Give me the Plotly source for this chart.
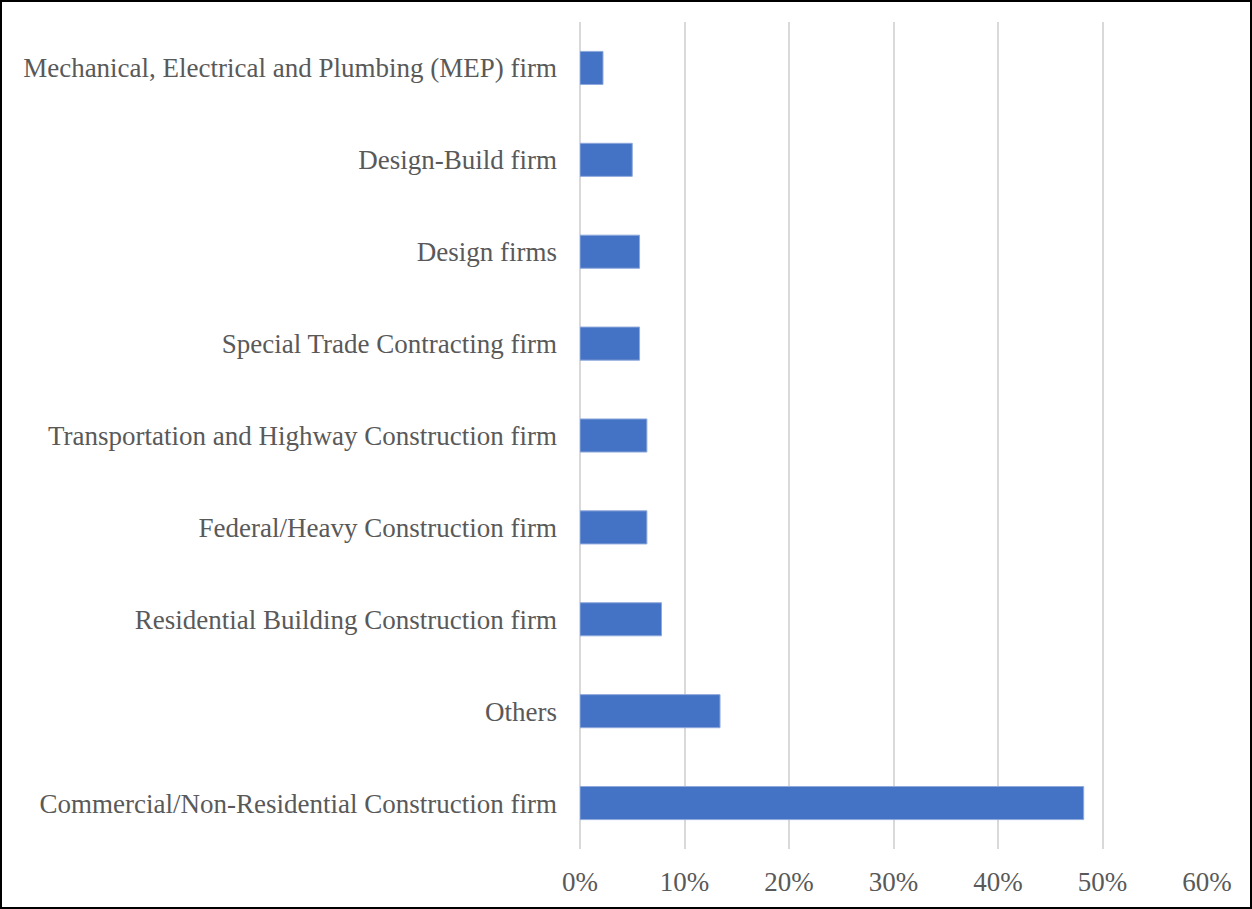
import plotly.graph_objects as go

# Firm types, listed bottom to top, and share of respondents
categories = [
    "Commercial/Non-Residential Construction firm",
    "Others",
    "Residential Building Construction firm",
    "Federal/Heavy Construction firm",
    "Transportation and Highway Construction firm",
    "Special Trade Contracting firm",
    "Design firms",
    "Design-Build firm",
    "Mechanical, Electrical and Plumbing (MEP) firm",
]
shares = [0.482, 0.134, 0.078, 0.064, 0.064, 0.057, 0.057, 0.050, 0.022]
tick_values = [0, 0.1, 0.2, 0.3, 0.4, 0.5, 0.6]
tick_labels = ["0%", "10%", "20%", "30%", "40%", "50%", "60%"]

W, H = 1252, 909
ML, MR, MT, MB = 580, 45, 22, 60
FONT = "Liberation Serif, Times New Roman, serif"
TEXT = "#595959"
GRID = "#D9D9D9"

fig = go.Figure(
    go.Bar(
        x=shares,
        y=categories,
        orientation="h",
        width=0.36,
        marker=dict(color="#4472C4", line=dict(color="#8EA9DB", width=1)),
    )
)

pw = W - ML - MR
ph = H - MT - MB

fig.update_layout(
    width=W,
    height=H,
    margin=dict(l=ML, r=MR, t=MT, b=MB, pad=0),
    paper_bgcolor="white",
    plot_bgcolor="white",
    showlegend=False,
    font=dict(family=FONT, size=27, color=TEXT),
    xaxis=dict(
        range=[0, 0.6],
        tickvals=tick_values,
        ticktext=tick_labels,
        showgrid=True,
        gridcolor=GRID,
        gridwidth=1.5,
        zeroline=True,
        zerolinecolor=GRID,
        zerolinewidth=1.5,
        showline=False,
        ticks="",
        ticklabelstandoff=14,
        tickfont=dict(family=FONT, size=27, color=TEXT),
    ),
    yaxis=dict(
        type="category",
        categoryorder="array",
        categoryarray=categories,
        showgrid=False,
        zeroline=False,
        showline=False,
        ticks="",
        ticklabelstandoff=22,
        tickfont=dict(family=FONT, size=27, color=TEXT),
    ),
    shapes=[
        dict(
            type="rect",
            xref="paper",
            yref="paper",
            x0=(1 - ML) / pw,
            x1=1 + (MR - 1) / pw,
            y0=-(MB - 1) / ph,
            y1=1 + (MT - 1) / ph,
            line=dict(color="black", width=2),
            fillcolor="rgba(0,0,0,0)",
            layer="above",
        )
    ],
)

fig.write_html("out.html")
